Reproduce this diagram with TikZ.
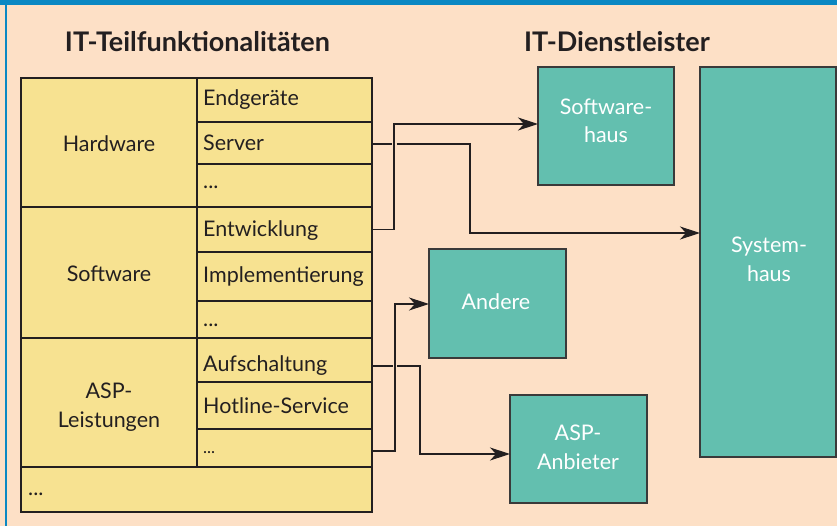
\documentclass[tikz,border=0pt]{standalone}
\usepackage{fontspec}
\setmainfont{Lato}
\usetikzlibrary{arrows.meta}
\definecolor{peach}{HTML}{FDE0C6}
\definecolor{cellyellow}{HTML}{F7E291}
\definecolor{tealbox}{HTML}{63BFAF}
\definecolor{bandblue}{HTML}{0B88C3}
\definecolor{ink}{HTML}{231F20}
\definecolor{boxline}{HTML}{3A3A3A}
\begin{document}
\begin{tikzpicture}[x=1pt,y=-1pt,
  cellbox/.style={draw=ink, line width=1.2pt, fill=cellyellow, anchor=north west, inner sep=0pt, outer sep=0pt},
  tealnode/.style={draw=boxline, line width=1.4pt, fill=tealbox, anchor=north west, inner sep=0pt, outer sep=0pt},
  celltext/.style={anchor=base west, inner sep=0pt, text=ink, font=\fontsize{21.5}{26}\selectfont},
  maintext/.style={anchor=base, inner sep=0pt, text=ink, font=\fontsize{21.5}{26}\selectfont},
  whitetext/.style={anchor=base, inner sep=0pt, text=white, font=\fontsize{21.5}{26}\selectfont},
  headtext/.style={anchor=base, inner sep=0pt, text=ink, font=\bfseries\fontsize{27}{30}\selectfont},
  conn/.style={draw=ink, line width=1.1pt},
  arr/.style={conn, -{Stealth[length=20pt,width=13pt,inset=6pt]}}
]
% background and frame
\fill[peach] (0,0) rectangle (837,526);
\fill[bandblue] (0,0) rectangle (837,5.5);
\fill[bandblue] (5,0) rectangle (7.3,526);
\useasboundingbox (0,0) rectangle (837,526);

% headings
\node[headtext] (h1) at (197.5,52) {IT-Teilfunktionalitäten};
\node[headtext] (h2) at (617,52) {IT-Dienstleister};

% left column cells
\node[cellbox, minimum width=176pt, minimum height=129pt] (hw) at (21,78) {};
\node[cellbox, minimum width=176pt, minimum height=131pt] (sw) at (21,207) {};
\node[cellbox, minimum width=176pt, minimum height=129pt] (al) at (21,338) {};
\node[cellbox, minimum width=351pt, minimum height=45pt] (rest) at (21,467) {};

% right column cells
\node[cellbox, minimum width=175pt, minimum height=44pt] (r1) at (197,78) {};
\node[cellbox, minimum width=175pt, minimum height=42pt] (r2) at (197,122) {};
\node[cellbox, minimum width=175pt, minimum height=43pt] (r3) at (197,164) {};
\node[cellbox, minimum width=175pt, minimum height=45pt] (r4) at (197,207) {};
\node[cellbox, minimum width=175pt, minimum height=49pt] (r5) at (197,252) {};
\node[cellbox, minimum width=175pt, minimum height=37pt] (r6) at (197,301) {};
\node[cellbox, minimum width=175pt, minimum height=44pt] (r7) at (197,338) {};
\node[cellbox, minimum width=175pt, minimum height=47pt] (r8) at (197,382) {};
\node[cellbox, minimum width=175pt, minimum height=38pt] (r9) at (197,429) {};

% left column texts
\node[maintext] (thw) at (109,152) {Hardware};
\node[maintext] (tsw) at (109,282) {Software};
\node[maintext] (tal1) at (109,398) {ASP-};
\node[maintext] (tal2) at (109,427) {Leistungen};
\node[celltext] (trest) at (28,495) {...};

% right column texts
\node[celltext] (t1) at (203,106) {Endgeräte};
\node[celltext] (t2) at (203,151) {Server};
\node[celltext] (t3) at (203,189) {...};
\node[celltext] (t4) at (203,237) {Entwicklung};
\node[celltext] (t5) at (203,283) {Implementierung};
\node[celltext] (t6) at (203,326) {...};
\node[celltext] (t7) at (203,371) {Aufschaltung};
\node[celltext] (t8) at (203,413) {Hotline-Service};
\node[celltext, font=\fontsize{17}{20}\selectfont] (t9) at (203,453) {...};

% service providers
\node[tealnode, minimum width=136pt, minimum height=118pt] (swh) at (538,67) {};
\node[tealnode, minimum width=136pt, minimum height=390pt] (sys) at (700,67) {};
\node[tealnode, minimum width=137pt, minimum height=109pt] (and) at (429,249) {};
\node[tealnode, minimum width=137pt, minimum height=108pt] (asp) at (510,395) {};

\node[whitetext] (lswh1) at (606,115) {Software-};
\node[whitetext] (lswh2) at (606,143) {haus};
\node[whitetext] (lsys1) at (769,253) {System-};
\node[whitetext] (lsys2) at (769,282) {haus};
\node[whitetext] (land) at (496,309) {Andere};
\node[whitetext] (lasp1) at (578,440) {ASP-};
\node[whitetext] (lasp2) at (578,469) {Anbieter};

% connectors
\draw[arr] (r4.east) -| (394,124) -- (swh.west |- 0,124);
\draw[arr] (r9.east |- 0,451) -| (395,304) -- (and.west |- 0,304);
\draw[arr] (r2.east |- 0,144) -- (392.3,144) ++(4.4,0) -- (470,144) |- (sys.west |- 0,233);
\draw[arr] (r7.east |- 0,366) -- (393,366) ++(4,0) -- (420,366) |- (asp.west |- 0,454);
\end{tikzpicture}
\end{document}
